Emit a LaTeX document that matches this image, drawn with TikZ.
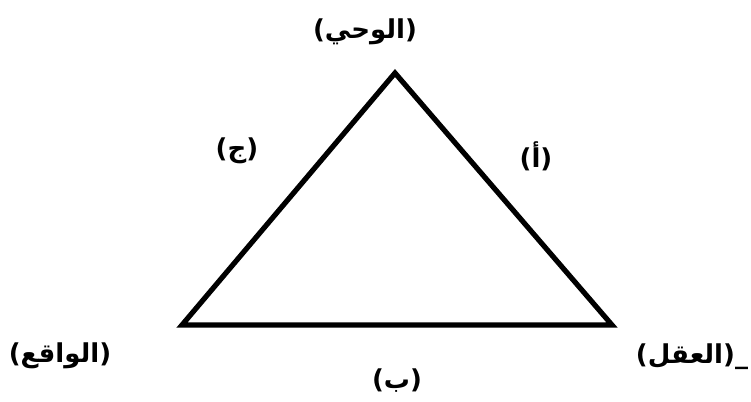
\documentclass[tikz,border=0pt]{standalone}
\usepackage{fontspec}
\newfontfamily\arabicfont[Script=Arabic]{DejaVu Sans}
\TeXXeTstate=1
\usetikzlibrary{calc}

\begin{document}
\begin{tikzpicture}[x=0.5pt,y=-0.5pt]
    \useasboundingbox (0,0) rectangle (751,402);
    \tikzset{lbl/.style={font=\arabicfont\bfseries\fontsize{13}{15}\selectfont,inner sep=0pt}}
    \coordinate (T) at (395,73);
    \coordinate (L) at (182,325);
    \coordinate (R) at (612,325);
    \draw[line width=2.6pt,line join=miter] (T) -- (L) -- (R) -- cycle;
    \node[lbl] (wahy) at (365,32) {\beginR(الوحي)\endR};
    \node[lbl] (waqi) at (60,356) {\beginR(الواقع)\endR};
    \node[lbl] (aql) at (692,357) {\beginR(العقل)\endR\_};
    \node[lbl] (jim) at (237,151) {\beginR(ج)\endR};
    \node[lbl] (alif) at (536,156) {\beginR(أ)\endR};
    \node[lbl] (ba) at (397,381) {\beginR(ب)\endR};
  \end{tikzpicture}
\end{document}
